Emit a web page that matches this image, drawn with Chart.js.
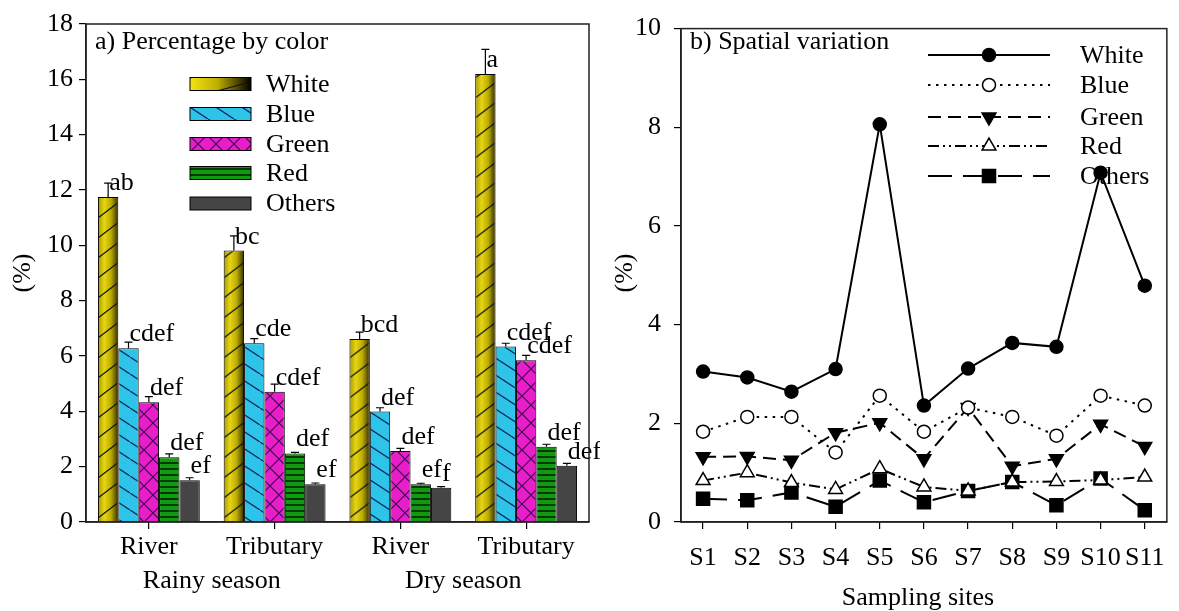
<!DOCTYPE html>
<html>
<head>
<meta charset="utf-8">
<script src="https://cdn.jsdelivr.net/npm/chart.js@4.4.1/dist/chart.umd.min.js"></script>
<style>
html, body { margin: 0; padding: 0; background: #fff; }
#wrap { position: relative; width: 1179px; height: 611px; overflow: hidden; }
#cBar { position: absolute; left: 0; top: 0; }
#cLine { position: absolute; left: 600px; top: 0; }
</style>
</head>
<body>
<div id="wrap">
    <canvas id="cBar" width="600" height="611"></canvas>
    <canvas id="cLine" width="579" height="611"></canvas>
</div>
<script>
// ---- data: a) percentage by color ----
const groups = ['River', 'Tributary', 'River', 'Tributary'];
const seasons = ['Rainy season', 'Dry season'];
const colorNames = ['White', 'Blue', 'Green', 'Red', 'Others'];
const barTicks = [0, 2, 4, 6, 8, 10, 12, 14, 16, 18];

const pctWhite = [11.75, 9.81, 6.61, 16.19];
const pctBlue = [6.28, 6.46, 3.99, 6.34];
const pctGreen = [4.33, 4.71, 2.57, 5.85];
const pctRed = [2.34, 2.48, 1.36, 2.72];
const pctOthers = [1.51, 1.36, 1.24, 2.03];

const errWhite = [0.50, 0.53, 0.25, 0.89];
const errBlue = [0.22, 0.17, 0.14, 0.12];
const errGreen = [0.20, 0.27, 0.09, 0.17];
const errRed = [0.12, 0.04, 0.04, 0.09];
const errOthers = [0.09, 0.05, 0.04, 0.09];

const sigWhite = ['ab', 'bc', 'bcd', 'a'];
const sigBlue = ['cdef', 'cde', 'def', 'cdef'];
const sigGreen = ['def', 'cdef', 'def', 'cdef'];
const sigRed = ['def', 'def', 'ef', 'def'];
const sigOthers = ['ef', 'ef', 'f', 'def'];

// ---- data: b) spatial variation ----
const sites = ['S1', 'S2', 'S3', 'S4', 'S5', 'S6', 'S7', 'S8', 'S9', 'S10', 'S11'];
const lineTicks = [0, 2, 4, 6, 8, 10];
const siteWhite = [3.05, 2.93, 2.64, 3.10, 8.06, 2.36, 3.11, 3.63, 3.55, 7.08, 4.79];
const siteBlue = [1.83, 2.13, 2.13, 1.41, 2.56, 1.83, 2.32, 2.13, 1.75, 2.56, 2.36];
const siteGreen = [1.32, 1.33, 1.25, 1.81, 2.01, 1.28, 2.32, 1.13, 1.28, 1.98, 1.53];
const siteRed = [0.84, 1.00, 0.80, 0.66, 1.08, 0.71, 0.63, 0.81, 0.82, 0.85, 0.91];
const siteOthers = [0.47, 0.44, 0.60, 0.31, 0.84, 0.40, 0.63, 0.81, 0.34, 0.88, 0.24];

const FONT = "'Liberation Serif', 'Times New Roman', serif";
const FS = 26;
const CAT_PCT = 0.81;

// ---- fill patterns ----
function tile(w, h, bg, draw) {
    const c = document.createElement('canvas');
    c.width = w; c.height = h;
    const g = c.getContext('2d');
    g.fillStyle = bg;
    g.fillRect(0, 0, w, h);
    draw(g, w, h);
    return c;
}
const pctx = document.getElementById('cBar').getContext('2d');

const blueFill = pctx.createPattern(tile(26, 17, '#2ec3e8', (g, w, h) => {
    g.strokeStyle = '#10285a'; g.lineWidth = 1.3;
    g.beginPath();
    g.moveTo(-w, -h); g.lineTo(2 * w, 2 * h);
    g.stroke();
}), 'repeat');

const magentaFill = pctx.createPattern(tile(18, 18, '#e81ec8', (g, w, h) => {
    g.strokeStyle = '#3a0850'; g.lineWidth = 1.2;
    g.beginPath();
    g.moveTo(0, 0); g.lineTo(w, h);
    g.moveTo(0, h); g.lineTo(w, 0);
    g.stroke();
}), 'repeat');

const greenFill = pctx.createPattern(tile(4, 6, '#119a11', (g, w) => {
    g.fillStyle = '#013a01';
    g.fillRect(0, 0, w, 2);
}), 'repeat');

const greyFill = '#454545';

function whiteTile(w, stops) {
    const wi = Math.max(2, Math.ceil(w));
    return tile(wi, 20, '#c8b800', (g, tw, th) => {
        const gr = g.createLinearGradient(0, 0, tw, 0);
        stops.forEach(s => gr.addColorStop(s[0], s[1]));
        g.fillStyle = gr;
        g.fillRect(0, 0, tw, th);
        g.strokeStyle = '#111'; g.lineWidth = 1.2;
        g.beginPath();
        for (const off of [-th, 0, th]) {
            g.moveTo(0, th * 0.9 + off);
            g.lineTo(tw, th * 0.1 + off);
        }
        g.stroke();
    });
}
const barStops = [[0, '#a89800'], [0.3, '#e6d612'], [0.62, '#bcac00'], [1, '#241f00']];
const legendStops = [[0, '#f2e414'], [0.45, '#bfae00'], [1, '#000']];

// White bars: gradient runs across each bar, so build it from the bar's scale position
function whiteFill(c) {
    const chart = c.chart;
    const xs = chart.scales && chart.scales.x;
    if (!chart.chartArea || !xs) return '#c8b800';
    const slot = xs.getPixelForValue(1) - xs.getPixelForValue(0);
    const n = chart.data.datasets.length;
    const bw = slot * CAT_PCT / n;
    const left = xs.getPixelForValue(c.dataIndex) - slot * CAT_PCT / 2 + c.datasetIndex * bw;
    const p = chart.ctx.createPattern(whiteTile(bw, barStops), 'repeat-y');
    p.setTransform(new DOMMatrix().translate(left, 0));
    return p;
}

// ---- plugins ----
const frame = {
    id: 'frame',
    afterDraw(chart) {
        const { ctx, chartArea: a } = chart;
        ctx.save();
        ctx.strokeStyle = '#222';
        ctx.lineWidth = 1.5;
        ctx.strokeRect(a.left, a.top, a.right - a.left, a.bottom - a.top);
        ctx.restore();
    }
};

function drawYTitle(ctx, x, y) {
    ctx.save();
    ctx.translate(x, y);
    ctx.rotate(-Math.PI / 2);
    ctx.textAlign = 'center';
    ctx.textBaseline = 'middle';
    ctx.fillText('(%)', 0, 0);
    ctx.restore();
}

const barExtras = {
    id: 'barExtras',
    afterDatasetsDraw(chart) {
        const { ctx } = chart;
        const y = chart.scales.y;
        ctx.save();
        ctx.strokeStyle = '#000';
        ctx.lineWidth = 1.2;
        ctx.fillStyle = '#000';
        ctx.font = FS + 'px ' + FONT;
        chart.data.datasets.forEach((ds, i) => {
            chart.getDatasetMeta(i).data.forEach((bar, j) => {
                const top = y.getPixelForValue(ds.data[j] + ds.errors[j]);
                ctx.beginPath();
                ctx.moveTo(bar.x, bar.y);
                ctx.lineTo(bar.x, top);
                ctx.moveTo(bar.x - 4, top);
                ctx.lineTo(bar.x + 4, top);
                ctx.stroke();
                ctx.textAlign = 'left';
                ctx.textBaseline = 'alphabetic';
                ctx.fillText(ds.letters[j], bar.x + 1, bar.y - 7);
            });
        });
        ctx.restore();
    },
    afterDraw(chart) {
        const { ctx } = chart;
        const xs = chart.scales.x;
        ctx.save();
        ctx.fillStyle = '#000';
        ctx.font = FS + 'px ' + FONT;
        ctx.textBaseline = 'middle';
        ctx.textAlign = 'left';
        ctx.fillText('a) Percentage by color', 95, 42);

        // seasons under pairs of groups
        ctx.textAlign = 'center';
        seasons.forEach((s, k) => {
            const xm = (xs.getPixelForValue(2 * k) + xs.getPixelForValue(2 * k + 1)) / 2;
            ctx.fillText(s, xm, 581);
        });
        drawYTitle(ctx, 23, 273);

        // legend
        const rows = [84, 114, 144, 173, 203.5];
        chart.data.datasets.forEach((ds, i) => {
            const y0 = rows[i];
            let fill = ds.legendFill;
            if (i === 0) {
                fill = ctx.createPattern(whiteTile(61, legendStops), 'repeat-y');
                fill.setTransform(new DOMMatrix().translate(190, 0));
            }
            ctx.fillStyle = fill;
            ctx.fillRect(190, y0 - 6.5, 61, 13);
            ctx.strokeStyle = '#000';
            ctx.lineWidth = 1;
            ctx.strokeRect(190, y0 - 6.5, 61, 13);
            ctx.fillStyle = '#000';
            ctx.textAlign = 'left';
            ctx.fillText(ds.label, 266, y0 + 1);
        });
        ctx.restore();
    }
};

function marker(ctx, style, x, y, r, rot, fill) {
    ctx.save();
    ctx.fillStyle = fill;
    ctx.strokeStyle = '#000';
    ctx.lineWidth = 1.5;
    ctx.setLineDash([]);
    ctx.beginPath();
    if (style === 'circle') {
        ctx.arc(x, y, r, 0, Math.PI * 2);
    } else if (style === 'rect') {
        const s = r * Math.SQRT1_2;
        ctx.rect(x - s, y - s, 2 * s, 2 * s);
    } else {
        let a = (rot || 0) * Math.PI / 180;
        ctx.moveTo(x + Math.sin(a) * r, y - Math.cos(a) * r);
        a += Math.PI * 2 / 3;
        ctx.lineTo(x + Math.sin(a) * r, y - Math.cos(a) * r);
        a += Math.PI * 2 / 3;
        ctx.lineTo(x + Math.sin(a) * r, y - Math.cos(a) * r);
        ctx.closePath();
    }
    ctx.fill();
    ctx.stroke();
    ctx.restore();
}

const lineExtras = {
    id: 'lineExtras',
    afterDraw(chart) {
        const { ctx, chartArea: a } = chart;
        ctx.save();
        ctx.fillStyle = '#000';
        ctx.font = FS + 'px ' + FONT;
        ctx.textBaseline = 'middle';
        ctx.textAlign = 'left';
        ctx.fillText('b) Spatial variation', 90, 42);
        ctx.textAlign = 'center';
        ctx.fillText('Sampling sites', (a.left + a.right) / 2 - 6, 598);
        drawYTitle(ctx, 25, 273);

        const rows = [55, 85, 117, 146, 176];
        chart.data.datasets.forEach((ds, i) => {
            const y0 = rows[i];
            ctx.save();
            ctx.strokeStyle = '#000';
            ctx.lineWidth = ds.borderWidth;
            ctx.setLineDash(ds.borderDash || []);
            ctx.beginPath();
            ctx.moveTo(328, y0);
            ctx.lineTo(450, y0);
            ctx.stroke();
            ctx.restore();
            marker(ctx, ds.pointStyle, 389, y0, ds.pointRadius, ds.pointRotation, ds.pointBackgroundColor);
            ctx.fillStyle = '#000';
            ctx.textAlign = 'left';
            ctx.fillText(ds.label, 480, y0 + 1);
        });
        ctx.restore();
    }
};

// ---- shared axis pieces ----
const tickFont = { family: FONT, size: FS };
const axisGrid = { display: true, drawOnChartArea: false, drawTicks: true, tickLength: 7, color: '#000', lineWidth: 1.2 };
const axisBorder = { display: true, color: '#222', width: 1.5 };

// ---- chart a ----
const barData = [pctWhite, pctBlue, pctGreen, pctRed, pctOthers];
const barErr = [errWhite, errBlue, errGreen, errRed, errOthers];
const barSig = [sigWhite, sigBlue, sigGreen, sigRed, sigOthers];
const barFills = [whiteFill, blueFill, magentaFill, greenFill, greyFill];

new Chart(pctx, {
    type: 'bar',
    data: {
        labels: groups,
        datasets: colorNames.map((name, i) => ({
            label: name,
            data: barData[i],
            errors: barErr[i],
            letters: barSig[i],
            backgroundColor: barFills[i],
            legendFill: barFills[i],
            borderColor: '#000',
            borderWidth: 1,
            categoryPercentage: CAT_PCT,
            barPercentage: 1.0
        }))
    },
    options: {
        responsive: false,
        animation: false,
        layout: { padding: { top: 24, right: 11, left: 0, bottom: 0 } },
        plugins: { legend: { display: false }, tooltip: { enabled: false } },
        scales: {
            x: {
                grid: Object.assign({}, axisGrid, { offset: false }),
                border: axisBorder,
                ticks: { font: tickFont, color: '#000', padding: 3, maxRotation: 0, autoSkip: false },
                afterFit: s => { s.height = 89; }
            },
            y: {
                min: 0, max: 18,
                grid: axisGrid,
                border: axisBorder,
                ticks: { font: tickFont, color: '#000', padding: 6 },
                afterBuildTicks: s => { s.ticks = barTicks.map(v => ({ value: v })); },
                afterFit: s => { s.width = 86; }
            }
        }
    },
    plugins: [barExtras, frame]
});

// ---- chart b ----
const siteData = [siteWhite, siteBlue, siteGreen, siteRed, siteOthers];
const lineLook = [
    { pointStyle: 'circle', pointRadius: 6.5, pointRotation: 0, pointBackgroundColor: '#000', borderDash: [] },
    { pointStyle: 'circle', pointRadius: 6.5, pointRotation: 0, pointBackgroundColor: '#fff', borderDash: [2.5, 5.5] },
    { pointStyle: 'triangle', pointRadius: 8, pointRotation: 180, pointBackgroundColor: '#000', borderDash: [13, 7] },
    { pointStyle: 'triangle', pointRadius: 8, pointRotation: 0, pointBackgroundColor: '#fff', borderDash: [11, 4, 2, 4, 2, 4] },
    { pointStyle: 'rect', pointRadius: 9.2, pointRotation: 0, pointBackgroundColor: '#000', borderDash: [24, 11] }
];

new Chart(document.getElementById('cLine').getContext('2d'), {
    type: 'line',
    data: {
        labels: sites,
        datasets: colorNames.map((name, i) => Object.assign({
            label: name,
            data: siteData[i],
            borderColor: '#000',
            borderWidth: 2,
            pointBorderColor: '#000',
            pointBorderWidth: 1.5,
            pointHoverRadius: lineLook[i].pointRadius,
            tension: 0,
            fill: false
        }, lineLook[i]))
    },
    options: {
        responsive: false,
        animation: false,
        layout: { padding: { top: 24, right: 1, left: 0, bottom: 0 } },
        plugins: { legend: { display: false }, tooltip: { enabled: false } },
        scales: {
            x: {
                offset: true,
                grid: axisGrid,
                border: axisBorder,
                ticks: { font: tickFont, color: '#000', padding: 14, maxRotation: 0, autoSkip: false },
                afterFit: s => { s.height = 89; }
            },
            y: {
                min: 0, max: 10,
                grid: axisGrid,
                border: axisBorder,
                ticks: { font: tickFont, color: '#000', padding: 13 },
                afterBuildTicks: s => { s.ticks = lineTicks.map(v => ({ value: v })); },
                afterFit: s => { s.width = 81; }
            }
        }
    },
    plugins: [lineExtras, frame]
});
</script>
</body>
</html>
